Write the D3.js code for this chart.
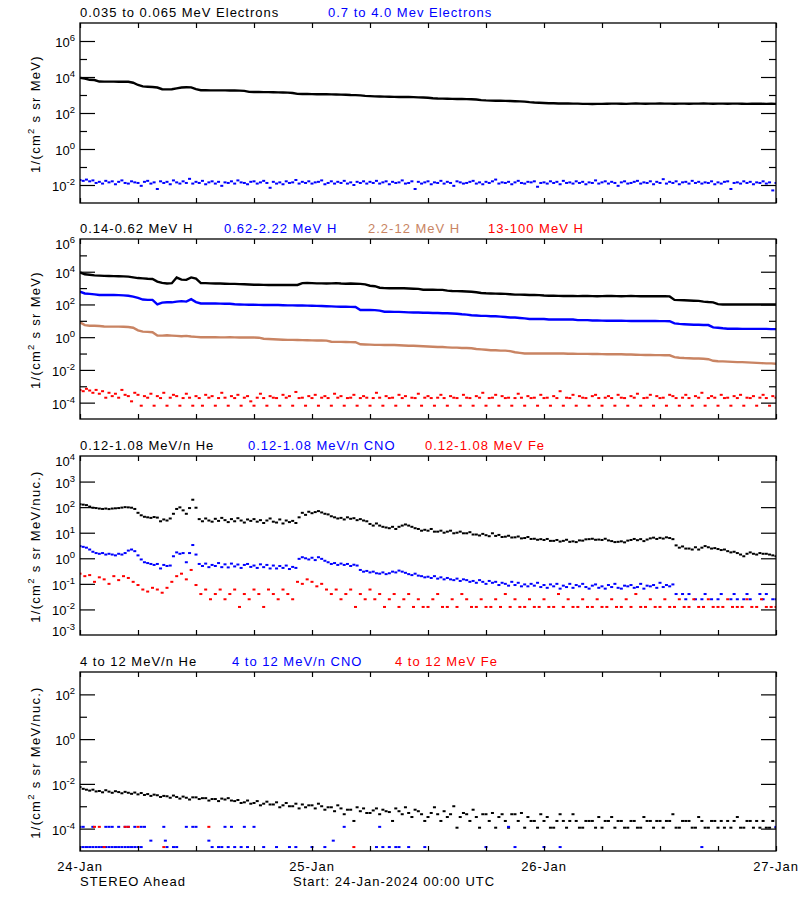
<!DOCTYPE html>
<html>
<head>
<meta charset="utf-8">
<script src="https://cdn.jsdelivr.net/npm/d3@7"></script>
<style>
html,body{margin:0;padding:0;background:#fff;}
svg text{font-family:"Liberation Sans",Arial,Helvetica,sans-serif;}
</style>
</head>
<body>
<svg id="chart" width="800" height="900"></svg>
<script>
// ================= DATA =================
const startTime = Date.UTC(2024, 0, 24, 0, 0);
const endTime = Date.UTC(2024, 0, 27, 0, 0);
const dayLabels = ["24-Jan", "25-Jan", "26-Jan", "27-Jan"];
const footerLeft = "STEREO Ahead";
const footerStart = "Start: 24-Jan-2024 00:00 UTC";

const titlesP1 = ["0.035 to 0.065 MeV Electrons", "0.7 to 4.0 Mev Electrons"];
const titlesP2 = ["0.14-0.62 MeV H", "0.62-2.22 MeV H", "2.2-12 MeV H", "13-100 MeV H"];
const titlesP3 = ["0.12-1.08 MeV/n He", "0.12-1.08 MeV/n CNO", "0.12-1.08 MeV Fe"];
const titlesP4 = ["4 to 12 MeV/n He", "4 to 12 MeV/n CNO", "4 to 12 MeV Fe"];

// sampling intervals (minutes)
const STEP30 = 30, STEP20 = 20;

// Panel 1: 0.035-0.065 MeV electrons (30 min)
const elecLow = [
 9000,8200,7000,6800,5600,5500,5500,5500,5400,5500,5400,4800,
 3600,3000,2900,2800,2600,2100,2050,2100,2350,2600,2700,2650,
 2100,1850,1820,1800,1800,1800,1800,1780,1780,1750,1700,1500,
 1470,1460,1450,1440,1420,1400,1380,1350,1300,1150,1140,1130,
 1120,1110,1100,1100,1080,1070,1050,1040,1000,990,950,900,
 870,840,820,810,800,790,780,780,770,760,740,720,
 700,660,640,630,620,610,600,600,590,580,560,520,
 500,490,480,480,470,460,450,440,430,400,380,370,
 360,350,350,340,340,340,330,330,320,320,315,320,
 320,325,330,330,325,320,330,335,330,325,330,330,
 335,330,330,325,330,330,325,330,330,335,330,325,
 330,330,325,330,330,325,320,325,330,325,320,325,
 320];
// Panel 1: 0.7-4.0 MeV electrons (20 min)
const elecHigh = [
 0.019,0.017,0.02,0.016,0.018,0.013,0.015,0.012,0.017,0.014,0.016,0.011,0.015,0.018,0.013,0.012,0.016,0.014,
 0.013,0.009,0.015,0.017,0.012,0.014,0.006,0.016,0.013,0.015,0.011,0.018,0.014,0.012,0.016,0.013,0.022,0.012,
 0.015,0.013,0.017,0.011,0.014,0.016,0.012,0.015,0.009,0.014,0.013,0.016,0.012,0.018,0.014,0.013,0.011,0.015,
 0.016,0.012,0.014,0.017,0.013,0.007,0.015,0.012,0.014,0.011,0.016,0.013,0.014,0.019,0.012,0.015,0.013,0.016,
 0.012,0.014,0.015,0.018,0.011,0.013,0.016,0.012,0.015,0.013,0.017,0.012,0.014,0.01,0.015,0.013,0.016,0.012,
 0.015,0.013,0.017,0.012,0.014,0.016,0.011,0.015,0.013,0.014,0.018,0.012,0.013,0.016,0.006,0.015,0.012,0.014,
 0.016,0.011,0.014,0.013,0.017,0.012,0.015,0.013,0.009,0.016,0.014,0.012,0.013,0.015,0.017,0.012,0.014,0.011,
 0.015,0.013,0.016,0.02,0.012,0.014,0.013,0.015,0.011,0.014,0.017,0.013,0.012,0.015,0.014,0.016,0.008,0.013,
 0.014,0.012,0.016,0.013,0.015,0.011,0.017,0.013,0.014,0.012,0.016,0.013,0.015,0.011,0.014,0.013,0.018,0.012,
 0.014,0.016,0.012,0.015,0.013,0.009,0.014,0.016,0.012,0.013,0.015,0.017,0.012,0.014,0.013,0.016,0.011,0.015,
 0.013,0.021,0.012,0.015,0.013,0.016,0.011,0.014,0.015,0.012,0.017,0.013,0.015,0.012,0.014,0.013,0.016,0.011,
 0.014,0.012,0.015,0.016,0.006,0.013,0.014,0.012,0.016,0.013,0.015,0.011,0.014,0.013,0.016,0.012,0.014,0.005,
 0.013];

// Panel 2: protons (30 min lines)
const hLow = [
 9000,7000,6500,6000,5800,5600,5500,5400,5300,5200,5000,4500,
 4100,3900,3700,3600,2500,2100,1900,2000,4400,3300,3200,4500,
 3800,2000,2000,1950,1900,1900,1850,1800,1800,1750,1700,1650,
 1600,1600,1580,1560,1550,1550,1550,1550,1550,1550,2000,2050,
 2000,1950,1950,1900,1950,2000,1900,1850,1900,1850,1800,1700,
 1400,1300,1050,1000,980,980,1000,980,950,920,900,800,
 800,790,780,780,700,660,650,640,620,600,560,500,
 480,470,460,450,440,420,400,400,390,380,380,370,
 350,340,340,335,330,330,330,325,330,330,325,320,
 325,330,330,325,320,325,330,325,320,320,325,320,
 320,320,310,190,185,180,175,170,165,150,140,135,
 105,100,100,100,100,100,100,100,100,100,100,100,
 100];
const hMid = [
 600,470,440,410,380,380,380,380,370,360,340,300,
 250,200,190,190,100,130,135,135,150,160,150,210,
 140,115,115,115,115,112,110,110,102,100,98,96,
 95,94,93,92,92,92,90,88,88,87,86,85,
 84,82,80,78,76,74,73,72,71,70,46,46,
 46,45,42,36,36,35,35,34,33,32,32,31,
 31,30,30,29,29,28,27,25,24,22,21,20,
 20,19,19,18,17,16,16,15,14,13,13,13,
 13,12,12,12,12,12,12,11,11,11,10.5,10.5,
 10.3,10,10,10,10,9.9,9.8,9.8,9.8,9.7,9.8,9.7,
 9.6,9.6,9.5,7,6.5,6.2,6,5.8,5.7,5.6,5.5,4,
 3.8,3.5,3.3,3.3,3.3,3.2,3.2,3.2,3.2,3.2,3.2,3.1,
 3.1];
const hHigh = [
 8,5.5,5,5,4.8,4.5,4.4,4.4,4.4,4.3,4.2,3.8,
 2.6,2.2,2.1,2.0,1.25,1.25,1.3,1.25,1.2,1.15,1.2,1.1,
 1.05,1.0,1.0,1.0,1.0,0.98,0.98,1.0,0.97,0.96,0.95,0.95,
 0.95,0.93,0.8,0.78,0.75,0.72,0.7,0.68,0.68,0.67,0.66,0.65,
 0.64,0.63,0.63,0.62,0.53,0.52,0.52,0.51,0.5,0.49,0.37,0.36,
 0.35,0.34,0.34,0.33,0.33,0.33,0.32,0.31,0.3,0.3,0.29,0.28,
 0.27,0.26,0.25,0.25,0.24,0.23,0.23,0.22,0.22,0.21,0.19,0.18,
 0.17,0.16,0.16,0.15,0.15,0.14,0.12,0.11,0.1,0.1,0.1,0.1,
 0.1,0.1,0.1,0.1,0.1,0.098,0.097,0.096,0.095,0.095,0.094,0.093,
 0.092,0.09,0.09,0.09,0.09,0.088,0.087,0.085,0.083,0.082,0.081,0.08,
 0.08,0.079,0.078,0.06,0.055,0.053,0.052,0.05,0.05,0.048,0.045,0.036,
 0.034,0.033,0.032,0.031,0.03,0.03,0.029,0.028,0.027,0.026,0.025,0.025,
 0.024];
// Panel 2: 13-100 MeV H (20 min)
const hTop = [
 6e-4,5e-4,7e-4,5.5e-4,4e-4,6e-4,3.5e-4,5e-4,2e-4,4e-4,2.5e-4,3.5e-4,2e-4,6e-4,3e-4,2.5e-4,1.2e-4,4e-4,
 3e-4,6.5e-5,2.5e-4,2e-4,3.5e-4,6.5e-5,2.5e-4,1.9e-4,4e-4,6.5e-5,2e-4,3e-4,2.5e-4,6.5e-5,1.9e-4,3.5e-4,2e-4,6.5e-5,
 2.5e-4,1.9e-4,6.5e-5,3e-4,2e-4,2.5e-4,6.5e-5,1.9e-4,4e-4,2e-4,6.5e-5,2.5e-4,1.9e-4,3e-4,6.5e-5,2e-4,2.5e-4,1.2e-4,
 6.5e-5,2e-4,3.5e-4,1.9e-4,6.5e-5,2.5e-4,2e-4,1.9e-4,6.5e-5,3e-4,2e-4,2.5e-4,6.5e-5,4.5e-4,1.9e-4,2e-4,6.5e-5,2.5e-4,
 1.9e-4,3e-4,6.5e-5,2e-4,2.5e-4,1.9e-4,6.5e-5,3.5e-4,2e-4,2.5e-4,6.5e-5,1.9e-4,2e-4,3e-4,6.5e-5,1.9e-4,2.5e-4,2e-4,
 6.5e-5,1.9e-4,4e-4,2e-4,6.5e-5,2.5e-4,1.9e-4,2e-4,6.5e-5,3e-4,1.9e-4,2.5e-4,6.5e-5,2e-4,1.9e-4,3.5e-4,6.5e-5,2e-4,
 2.5e-4,1.9e-4,6.5e-5,2e-4,3e-4,1.9e-4,6.5e-5,2.5e-4,2e-4,1.9e-4,6.5e-5,3e-4,2e-4,1.9e-4,6.5e-5,2.5e-4,2e-4,4e-4,
 6.5e-5,1.9e-4,2e-4,3e-4,6.5e-5,2.5e-4,1.9e-4,2e-4,6.5e-5,1.9e-4,3.5e-4,2e-4,6.5e-5,2.5e-4,1.9e-4,2e-4,6.5e-5,3e-4,
 1.9e-4,2e-4,6.5e-5,2.5e-4,1.9e-4,5e-4,6.5e-5,2e-4,1.9e-4,3e-4,6.5e-5,2.5e-4,2e-4,1.9e-4,6.5e-5,2.5e-4,3e-4,1.9e-4,
 6.5e-5,2e-4,2.5e-4,1.9e-4,6.5e-5,3e-4,2e-4,1.9e-4,6.5e-5,2.5e-4,2e-4,3.5e-4,6.5e-5,1.9e-4,2e-4,3e-4,6.5e-5,2.5e-4,
 1.9e-4,2e-4,6.5e-5,3e-4,2.5e-4,1.9e-4,6.5e-5,2e-4,3e-4,1.9e-4,6.5e-5,2.5e-4,2e-4,4e-4,6.5e-5,1.9e-4,2.5e-4,2e-4,
 6.5e-5,3e-4,1.9e-4,2e-4,6.5e-5,2.5e-4,1.9e-4,3e-4,6.5e-5,2e-4,1.9e-4,2.5e-4,6.5e-5,2e-4,3e-4,1.9e-4,6.5e-5,2.5e-4,
 2e-4];

// Panel 3: 0.12-1.08 MeV/n (20 min He, CNO; 30 min Fe)
const heLow = [
 130,125,120,105,95,92,88,85,88,84,88,90,92,96,100,98,95,85,
 60,48,42,40,38,41,39,28,33,30,36,55,85,98,75,55,92,195,
 95,34,28,36,30,27,35,29,38,31,26,34,28,37,30,25,33,29,
 34,27,31,24,30,36,27,25,33,23,30,26,29,24,40,60,50,66,
 58,64,70,62,55,52,44,40,36,38,33,40,35,37,31,34,30,28,
 22,19,23,19,17,16,15,17,14,17,19,21,19,17,15,14,12,13,
 12,14,11,11,12,10,11,12,9.5,10,11,9.5,9.5,10.5,8.5,8.5,7.8,9,
 8,7.3,9.5,7.5,8.2,6.8,7,7.6,6.5,6.6,7.1,6,6.2,6.8,5.7,5.8,5.3,5.6,
 5.2,5.7,4.8,4.8,5.2,4.5,4.8,5.3,4.4,4.6,4.3,5,4.9,5.5,5.6,5.8,5.3,5.4,
 5.2,5.8,5,4.7,4.3,4.4,4.6,4.2,4.9,5.2,5.7,5.1,5.6,4.7,5.4,6,6.4,5.7,
 6.3,5.9,6.6,6.2,5.6,3.2,2.6,2.9,2.4,2.4,2.2,2.7,2.2,2.6,3,2.7,2.4,2.5,
 2.3,2.1,2.2,1.9,1.7,1.8,1.6,1.4,1.2,1.5,1.7,1.5,1.4,1.6,1.5,1.5,1.4,1.3,
 1.2];
const cnoLow = [
 3.0,2.8,2.6,2.2,1.8,1.6,1.5,1.6,1.4,1.5,1.4,1.3,1.5,1.4,1.6,2.0,2.2,1.9,
 1.3,0.9,0.7,0.65,0.6,0.55,0.6,0.4,0.55,0.5,0.52,1.2,1.7,1.5,1.6,0.7,1.6,3.3,
 1.4,0.6,0.5,0.62,0.45,0.55,0.5,0.65,0.45,0.58,0.44,0.62,0.48,0.57,0.42,0.55,0.6,0.46,
 0.52,0.42,0.58,0.45,0.55,0.4,0.52,0.4,0.5,0.42,0.52,0.38,0.46,0.42,0.95,1.1,1.0,0.9,
 1.05,0.85,1.1,0.95,0.8,0.7,0.6,0.65,0.55,0.62,0.55,0.6,0.5,0.56,0.52,0.35,0.3,0.32,
 0.28,0.3,0.26,0.25,0.28,0.24,0.26,0.3,0.28,0.33,0.3,0.27,0.24,0.22,0.25,0.21,0.2,0.18,
 0.19,0.17,0.2,0.16,0.18,0.15,0.17,0.15,0.14,0.16,0.13,0.15,0.14,0.12,0.13,0.11,0.14,0.12,
 0.1,0.13,0.11,0.12,0.09,0.11,0.1,0.085,0.12,0.09,0.11,0.08,0.095,0.08,0.1,0.085,0.11,0.075,
 0.09,0.07,0.095,0.08,0.1,0.065,0.085,0.075,0.1,0.07,0.09,0.08,0.1,0.075,0.065,0.085,0.095,0.07,
 0.08,0.065,0.09,0.075,0.1,0.07,0.065,0.085,0.08,0.09,0.07,0.075,0.1,0.065,0.085,0.08,0.09,0.07,
 0.11,0.075,0.09,0.08,0.095,0.04,null,0.04,0.025,0.04,null,0.025,null,0.025,0.04,null,0.025,null,
 0.025,0.04,null,null,0.025,0.04,0.025,null,0.025,0.04,0.025,null,null,0.04,0.025,0.04,null,0.025,
 0.025];
const feLow = [
 0.25,0.2,0.22,0.12,0.18,0.15,0.1,0.2,0.14,0.2,0.17,0.12,
 0.09,0.06,0.05,0.07,0.06,0.045,0.07,0.12,0.2,0.25,0.15,0.35,
 0.09,0.04,0.06,0.025,0.04,0.06,0.025,0.04,0.06,0.0125,0.04,0.025,
 0.06,0.04,0.0125,0.06,0.04,0.025,0.06,0.04,0.025,0.12,0.1,0.15,
 0.12,0.08,0.1,0.06,0.04,0.06,0.025,0.04,0.06,0.0125,0.04,0.025,
 0.06,0.025,0.04,0.0125,0.025,0.04,0.0125,0.025,0.04,0.0125,0.025,0.0125,
 0.0125,0.025,0.04,0.0125,0.0125,0.025,0.0125,0.04,0.025,0.0125,0.0125,0.025,
 0.0125,0.0125,0.025,0.0125,0.04,0.0125,0.025,0.0125,0.0125,0.025,0.0125,0.0125,
 0.025,0.0125,0.0125,0.04,0.0125,0.025,0.0125,0.0125,0.025,0.0125,0.0125,0.025,
 0.0125,0.0125,0.025,0.0125,0.0125,0.025,0.0125,0.04,0.0125,0.0125,0.025,0.0125,
 0.0125,0.025,0.0125,0.0125,0.025,0.0125,0.0125,0.025,0.0125,0.0125,0.025,0.0125,
 0.0125,0.0125,0.025,0.0125,0.0125,0.0125,0.025,0.0125,0.0125,0.025,0.0125,0.0125,
 0.0125];

// Panel 4: 4-12 MeV/n He (20 min)
const heHigh = [
 7.2e-3,6e-3,5.5e-3,5e-3,5.5e-3,4.6e-3,4.8e-3,4.2e-3,5.2e-3,4.5e-3,4e-3,4.7e-3,4.3e-3,3.8e-3,4.4e-3,4e-3,3.6e-3,4.1e-3,
 3.4e-3,3.9e-3,3.2e-3,3.5e-3,2.9e-3,3.3e-3,3.1e-3,2.6e-3,2.9e-3,2.8e-3,2.4e-3,3e-3,2.6e-3,2.2e-3,2.7e-3,2.4e-3,2e-3,2.5e-3,
 2.5e-3,2.1e-3,2.3e-3,2.3e-3,1.8e-3,2.1e-3,2.1e-3,1.7e-3,2.2e-3,2e-3,2.3e-3,1.8e-3,1.7e-3,1.9e-3,1.4e-3,1.5e-3,1.8e-3,1.3e-3,
 1.4e-3,1.7e-3,1.1e-3,1.3e-3,1.6e-3,1.2e-3,1.2e-3,1.5e-3,9e-4,1.1e-3,1.4e-3,1e-3,1e-3,1.3e-3,8e-4,1.2e-3,9e-4,1.1e-3,
 1.1e-3,8e-4,1.3e-3,1e-3,7e-4,9e-4,9e-4,6e-4,1.1e-3,8e-4,4.4e-4,7e-4,7e-4,2.2e-4,9e-4,6e-4,8e-4,5e-4,
 5e-4,6.5e-4,8e-4,4.4e-4,7e-4,6e-4,5.5e-4,2.2e-4,8e-4,6e-4,4.4e-4,9e-4,5e-4,3.3e-4,7e-4,6e-4,4.4e-4,2.2e-4,
 3.3e-4,5e-4,9e-4,4.4e-4,2.2e-4,6e-4,3.3e-4,4.4e-4,1e-3,1.1e-4,3.3e-4,5e-4,4.4e-4,2.2e-4,7e-4,3.3e-4,1.1e-4,4.4e-4,
 4.4e-4,2.2e-4,5e-4,1.1e-4,3.3e-4,4.4e-4,2.2e-4,1.1e-4,4.4e-4,4.4e-4,2.2e-4,5e-4,1.1e-4,3.3e-4,2.2e-4,2.2e-4,1.1e-4,4.4e-4,
 2.2e-4,3.3e-4,1.1e-4,1.1e-4,2.2e-4,4.4e-4,2.2e-4,1.1e-4,2.2e-4,4.4e-4,2.2e-4,1.1e-4,1.1e-4,2.2e-4,2.2e-4,2.2e-4,1.1e-4,3.3e-4,
 1.1e-4,2.2e-4,2.2e-4,3.3e-4,1.1e-4,2.2e-4,2.2e-4,1.1e-4,1.1e-4,2.2e-4,2.2e-4,1.1e-4,1.1e-4,3.3e-4,2.2e-4,2.2e-4,1.1e-4,2.2e-4,
 2.2e-4,1.1e-4,2.2e-4,2.2e-4,4.4e-4,1.1e-4,1.1e-4,2.2e-4,2.2e-4,2.2e-4,1.1e-4,1.1e-4,3.3e-4,2.2e-4,1.1e-4,1.1e-4,2.2e-4,2.2e-4,
 1.1e-4,2.2e-4,1.1e-4,2.2e-4,1.1e-4,2.2e-4,3.3e-4,1.1e-4,1.1e-4,2.2e-4,2.2e-4,1.1e-4,2.2e-4,1.1e-4,2.2e-4,1.1e-4,1.1e-4,2.2e-4,
 1.1e-4];
// sparse series: hours after start and values
const cnoHighHours = [
 0,0.33,1.33,2.67,3,3.33,4,4.67,5,5.67,6.33,6.67,8.67,11,11.67,12,15,15.67,17,18,27.33,31,44.33,72,
 0,0.33,0.67,1,1.33,1.67,2,2.33,2.67,3,3.33,3.67,4,4.33,4.67,5,5.33,5.67,6,6.33,
 9,9.67,10,13.67,14.33,14.67,15.33,16,16.67,17.33,19,20.33,21.67,22.33,24,25.33,30.67,31.33,32,32.67,33,34,35.67,42,45,48,49.67,64.33,
 7.33,8.83,13.33,26.2];
const cnoHighValues = [
 1.2e-4,1.2e-4,1.2e-4,1.2e-4,1.2e-4,1.2e-4,1.2e-4,1.2e-4,1.2e-4,1.2e-4,1.2e-4,1.2e-4,1.2e-4,1.2e-4,1.2e-4,1.2e-4,1.2e-4,1.2e-4,1.2e-4,1.2e-4,1.2e-4,1.2e-4,1.2e-4,1.2e-4,
 1.5e-5,1.5e-5,1.5e-5,1.5e-5,1.5e-5,1.5e-5,1.5e-5,1.5e-5,1.5e-5,1.5e-5,1.5e-5,1.5e-5,1.5e-5,1.5e-5,1.5e-5,1.5e-5,1.5e-5,1.5e-5,1.5e-5,1.5e-5,
 1.5e-5,1.5e-5,1.5e-5,1.5e-5,1.5e-5,1.5e-5,1.5e-5,1.5e-5,1.5e-5,1.5e-5,1.5e-5,1.5e-5,1.5e-5,1.5e-5,1.5e-5,1.5e-5,1.5e-5,1.5e-5,1.5e-5,1.5e-5,1.5e-5,1.5e-5,1.5e-5,1.5e-5,1.5e-5,1.5e-5,1.5e-5,1.5e-5,
 2.9e-5,2.9e-5,2.9e-5,2.9e-5];
const feHighHours = [1.5, 2, 4.67, 5, 6, 13.33, 2.5, 8.67, 28.33];
const feHighValues = [1.2e-4, 1.2e-4, 1.2e-4, 1.2e-4, 1.2e-4, 1.2e-4, 1.5e-5, 1.5e-5, 1.5e-5];

// ================= DRAWING =================
const COL = {black: "#000000", blue: "#0000ff", red: "#ff0000", sienna: "#c98463"};
const X0 = 80, X1 = 776;

function regular(values, stepMin) {
  return values.map((v, i) => ({t: new Date(startTime + i * stepMin * 60000), v}))
               .filter(d => d.v != null && d.v > 0);
}
function sparse(hours, values) {
  return hours.map((h, i) => ({t: new Date(startTime + h * 3600000), v: values[i]}));
}

const panels = [
  {top: 23, bottom: 203, dom: [1e-3, 1e7], majors: [-2, 0, 2, 4, 6], minors: [-1, 1, 3, 5], labels: [-2, 0, 2, 4, 6],
   unit: "MeV)",
   titles: [[titlesP1[0], COL.black, 80], [titlesP1[1], COL.blue, 328]],
   lines: [[regular(elecLow, STEP30), COL.black]],
   dots: [[regular(elecHigh, STEP20), COL.blue]]},
  {top: 239, bottom: 419, dom: [1e-5, 1e6], majors: [-4, -2, 0, 2, 4], minors: [-3, -1, 1, 3, 5], labels: [-4, -2, 0, 2, 4, 6],
   unit: "MeV)",
   titles: [[titlesP2[0], COL.black, 80], [titlesP2[1], COL.blue, 224], [titlesP2[2], COL.sienna, 368], [titlesP2[3], COL.red, 488]],
   lines: [[regular(hLow, STEP30), COL.black], [regular(hMid, STEP30), COL.blue], [regular(hHigh, STEP30), COL.sienna]],
   dots: [[regular(hTop, STEP20), COL.red]]},
  {top: 456, bottom: 635, dom: [1e-3, 1e4], majors: [-2, -1, 0, 1, 2, 3], minors: [], labels: [-3, -2, -1, 0, 1, 2, 3, 4],
   unit: "MeV/nuc.)",
   titles: [[titlesP3[0], COL.black, 80], [titlesP3[1], COL.blue, 248], [titlesP3[2], COL.red, 425]],
   lines: [],
   dots: [[regular(heLow, STEP20), COL.black], [regular(cnoLow, STEP20), COL.blue], [regular(feLow, STEP30), COL.red]]},
  {top: 672, bottom: 851, dom: [1e-5, 1e3], majors: [-4, -2, 0, 2], minors: [-3, -1, 1], labels: [-4, -2, 0, 2],
   unit: "MeV/nuc.)",
   titles: [[titlesP4[0], COL.black, 80], [titlesP4[1], COL.blue, 232], [titlesP4[2], COL.red, 395]],
   lines: [],
   dots: [[regular(heHigh, STEP20), COL.black], [sparse(cnoHighHours, cnoHighValues), COL.blue], [sparse(feHighHours, feHighValues), COL.red]]}
];

const svg = d3.select("#chart");
const x = d3.scaleUtc().domain([new Date(startTime), new Date(endTime)]).range([X0, X1]);

panels.forEach((p, pi) => {
  const y = d3.scaleLog().domain(p.dom).range([p.bottom, p.top]);
  const g = svg.append("g");
  const clipId = "clip" + pi;
  svg.append("clipPath").attr("id", clipId)
    .append("rect").attr("x", X0).attr("y", p.top).attr("width", X1 - X0).attr("height", p.bottom - p.top);

  const plot = g.append("g").attr("clip-path", `url(#${clipId})`);
  const line = d3.line().x(d => x(d.t)).y(d => y(d.v));
  p.lines.forEach(([data, color]) => {
    plot.append("path").datum(data).attr("d", line)
      .attr("fill", "none").attr("stroke", color).attr("stroke-width", 2.4);
  });
  p.dots.forEach(([data, color]) => {
    plot.append("g").selectAll("rect").data(data).join("rect")
      .attr("x", d => x(d.t) - 1.5).attr("y", d => y(d.v) - 1)
      .attr("width", 3).attr("height", 2).attr("fill", color);
  });

  // frame
  g.append("rect").attr("x", X0).attr("y", p.top).attr("width", X1 - X0).attr("height", p.bottom - p.top)
    .attr("fill", "none").attr("stroke", "#000").attr("stroke-width", 1.3);

  const axStyle = s => { s.select(".domain").remove(); s.selectAll("line").attr("stroke", "#000").attr("stroke-width", 1.2); };
  // x ticks
  g.append("g").attr("transform", `translate(0,${p.top})`)
    .call(d3.axisTop(x).ticks(d3.utcHour.every(6)).tickSize(-5).tickFormat("")).call(axStyle);
  g.append("g").attr("transform", `translate(0,${p.bottom})`)
    .call(d3.axisBottom(x).ticks(d3.utcHour.every(6)).tickSize(-5).tickFormat("")).call(axStyle);
  // y ticks
  const maj = p.majors.map(e => Math.pow(10, e)), mnr = p.minors.map(e => Math.pow(10, e));
  g.append("g").attr("transform", `translate(${X0},0)`).call(d3.axisLeft(y).tickValues(maj).tickSize(-15).tickFormat("")).call(axStyle);
  g.append("g").attr("transform", `translate(${X1},0)`).call(d3.axisRight(y).tickValues(maj).tickSize(-15).tickFormat("")).call(axStyle);
  if (mnr.length) {
    g.append("g").attr("transform", `translate(${X0},0)`).call(d3.axisLeft(y).tickValues(mnr).tickSize(-7).tickFormat("")).call(axStyle);
    g.append("g").attr("transform", `translate(${X1},0)`).call(d3.axisRight(y).tickValues(mnr).tickSize(-7).tickFormat("")).call(axStyle);
  }
  g.selectAll(".tick text").remove();

  // y tick labels
  p.labels.forEach(e => {
    const ty = y(Math.pow(10, e));
    const by = Math.min(Math.max(ty + 6, p.top + 10), p.bottom + 1);
    const t = g.append("text").attr("x", 75).attr("y", by).attr("text-anchor", "end")
      .style("font-size", "13px").attr("fill", "#000");
    t.append("tspan").text("10");
    t.append("tspan").attr("dy", -6).style("font-size", "9.5px").text(String(e));
  });

  // y axis label
  const yl = g.append("text")
    .attr("transform", `translate(40,${(p.top + p.bottom) / 2 + 1}) rotate(-90)`)
    .attr("text-anchor", "middle").style("font-size", "13px").style("letter-spacing", "1.3px").attr("fill", "#000");
  yl.append("tspan").text("1/(cm");
  yl.append("tspan").attr("dy", -6).style("font-size", "9.5px").text("2");
  yl.append("tspan").attr("dy", 6).text(" s sr " + p.unit);

  // titles
  p.titles.forEach(([txt, color, tx]) => {
    g.append("text").attr("x", tx).attr("y", p.top - 6).attr("fill", color)
      .style("font-size", "13px").style("letter-spacing", "1px").text(txt);
  });
});

// bottom day labels & footer
const bottomY = panels[3].bottom;
dayLabels.forEach((lab, i) => {
  svg.append("text").attr("x", x(new Date(startTime + i * 86400000))).attr("y", bottomY + 20)
    .attr("text-anchor", "middle").style("font-size", "13px").style("letter-spacing", "1px").text(lab);
});
svg.append("text").attr("x", 80).attr("y", bottomY + 35).style("font-size", "13px").style("letter-spacing", "1px").text(footerLeft);
svg.append("text").attr("x", 293).attr("y", bottomY + 35).style("font-size", "13px").style("letter-spacing", "1px").text(footerStart);
</script>
</body>
</html>
